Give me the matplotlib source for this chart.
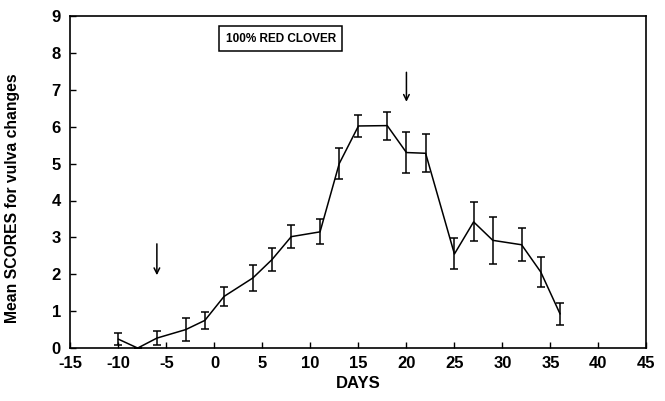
import matplotlib
matplotlib.use("Agg")
import matplotlib.pyplot as plt
import numpy as np

days = [-10, -8, -6, -3, -1, 1, 4, 6, 8, 11, 13, 15, 18, 20, 22, 25, 27, 29, 32, 34, 36]
scores = [0.24, 0.0, 0.27, 0.50, 0.75, 1.40, 1.90, 2.40, 3.02, 3.15, 5.00, 6.02, 6.03, 5.30, 5.28, 2.55, 3.42, 2.92, 2.80, 2.06, 0.93]
errors = [0.17, 0.0, 0.20, 0.32, 0.24, 0.26, 0.35, 0.32, 0.32, 0.34, 0.43, 0.31, 0.38, 0.55, 0.52, 0.42, 0.53, 0.64, 0.45, 0.41, 0.30]
arrow_days = [-6, 20]
arrow_tops = [2.9, 7.55]
arrow_bottoms = [1.9, 6.6]
xticks = list(range(-15, 50, 5))
yticks = list(range(0, 10))

plt.rcParams['font.family'] = ['Liberation Sans', 'DejaVu Sans']
plt.rcParams['axes.unicode_minus'] = False
fig = plt.figure(figsize=(6.65, 4.01), dpi=100)
ax = fig.add_axes([0.106, 0.132, 0.866, 0.828])

ax.errorbar(days, scores, yerr=errors, color='black', lw=1.1, elinewidth=1.1,
            capsize=3, capthick=1.1)

for d, t, b in zip(arrow_days, arrow_tops, arrow_bottoms):
    ax.annotate('', xy=(d, b), xytext=(d, t),
                arrowprops=dict(arrowstyle='->', color='black', lw=1.1))

ax.text(6.9, 8.38, '100% RED CLOVER', ha='center', va='center', fontsize=8.5,
        fontweight='bold',
        bbox=dict(boxstyle='square,pad=0.55', facecolor='white', edgecolor='black', lw=1.1))

ax.set_xlim(-15, 45)
ax.set_ylim(0, 9)
ax.set_xticks(xticks)
ax.set_yticks(yticks)
ax.tick_params(direction='in', length=4, width=1.0, labelsize=12)
ax.tick_params(axis='y', pad=7)
ax.tick_params(axis='x', pad=6)
for lab in ax.get_xticklabels() + ax.get_yticklabels():
    lab.set_fontweight('bold')
for s in ax.spines.values():
    s.set_linewidth(1.2)
ax.set_xlabel('DAYS', fontsize=12, fontweight='bold', labelpad=3)
ax.set_ylabel('Mean SCORES for vulva changes', fontsize=11.3, fontweight='bold')
ax.yaxis.set_label_coords(-0.087, 0.45)

fig.savefig('out.png', dpi=100)
